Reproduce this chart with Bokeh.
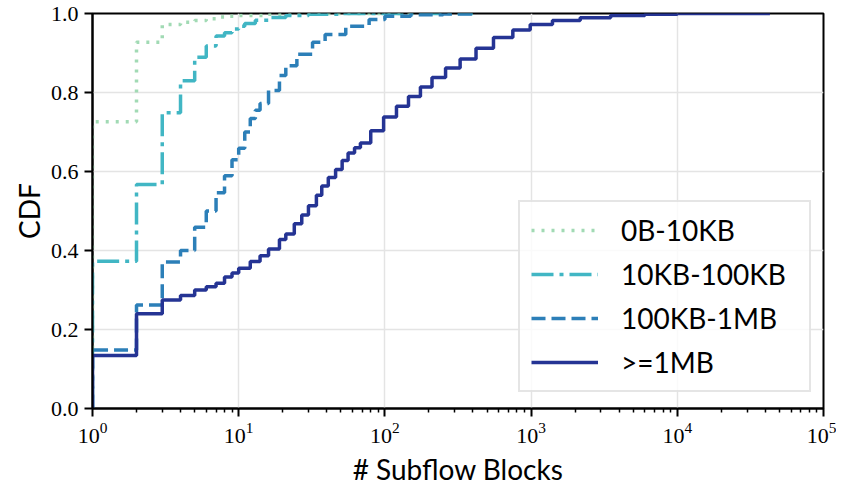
from bokeh.plotting import figure
from bokeh.models import FixedTicker, NumeralTickFormatter, Legend, LegendItem
from bokeh.embed import file_html
from bokeh.resources import INLINE

# ---- data ----
labels = ["0B-10KB", "10KB-100KB", "100KB-1MB", ">=1MB"]
colors = ["#a1dab4", "#41b6c4", "#2c7fb8", "#253494"]
dashes = ["3 7", "22 6 4 6", "14 6", "solid"]

s1_x = [1, 1, 2, 3, 4, 5, 6, 7, 8, 10, 15, 25, 150]
s1_y = [0, 0.726, 0.927, 0.972, 0.978, 0.982, 0.987, 0.991, 0.993, 0.995, 0.998, 1.0, 1.0]

s2_x = [1, 1, 2, 3, 4, 5, 6, 7, 8, 9, 10, 11, 13, 16, 21, 30, 50, 400]
s2_y = [0, 0.373, 0.567, 0.749, 0.830, 0.889, 0.918, 0.943, 0.951, 0.961, 0.968,
        0.975, 0.983, 0.990, 0.995, 0.998, 1.0, 1.0]

s3_x = [1, 1, 2, 3, 4, 5, 6, 7, 8, 9, 10, 11, 12, 13, 14, 16, 19, 21, 25, 32, 39,
        54, 78, 100, 150, 250, 400]
s3_y = [0, 0.148, 0.262, 0.371, 0.40, 0.459, 0.50, 0.546, 0.589, 0.63, 0.659, 0.70,
        0.734, 0.755, 0.772, 0.805, 0.843, 0.868, 0.897, 0.927, 0.947, 0.968, 0.985,
        0.993, 0.997, 0.999, 1.0]

s4_x = [1, 1, 2, 3, 4, 5, 6, 7, 8, 9, 10, 12, 14, 16, 19, 21, 24, 27, 30, 34, 37,
        41, 46, 51, 56, 62, 68, 80, 98, 120, 145, 175, 210, 260, 327, 420, 553, 750,
        986, 1400, 2167, 3500, 6000, 10000, 43000]
s4_y = [0, 0.134, 0.24, 0.275, 0.286, 0.30, 0.308, 0.317, 0.333, 0.343, 0.355, 0.372,
        0.387, 0.404, 0.428, 0.442, 0.468, 0.49, 0.513, 0.54, 0.563, 0.585, 0.605,
        0.628, 0.647, 0.66, 0.672, 0.703, 0.738, 0.765, 0.79, 0.814, 0.838, 0.862,
        0.885, 0.912, 0.939, 0.958, 0.972, 0.982, 0.989, 0.995, 0.998, 1.0, 1.0]

xs = [s1_x, s2_x, s3_x, s4_x]
ys = [s1_y, s2_y, s3_y, s4_y]

y_ticks = [0.0, 0.2, 0.4, 0.6, 0.8, 1.0]
x_ticks = [1, 10, 100, 1000, 10000, 100000]
x_minor = [m * d for d in [1, 10, 100, 1000, 10000] for m in range(2, 10)]

SANS = "Lato"
SERIF = "Liberation Serif"

p = figure(width=836, height=490, x_axis_type="log", x_range=(1, 1e5), y_range=(0, 1),
           output_backend="svg", toolbar_location=None,
           min_border_left=92, min_border_right=13, min_border_top=13, min_border_bottom=82)

p.background_fill_color = "white"
p.outline_line_color = "black"
p.outline_line_width = 2

p.yaxis.ticker = FixedTicker(ticks=y_ticks)
p.yaxis.formatter = NumeralTickFormatter(format="0.0")
p.xaxis.ticker = FixedTicker(ticks=x_ticks, minor_ticks=x_minor)

for ax in (p.xaxis, p.yaxis):
    ax.axis_line_width = 2
    ax.axis_line_color = "black"
    ax.major_tick_line_width = 2
    ax.major_tick_line_color = "black"
    ax.major_tick_out = 8
    ax.major_tick_in = 0
    ax.minor_tick_out = 4
    ax.minor_tick_in = 0
    ax.minor_tick_line_width = 1.5
    ax.minor_tick_line_color = "black"
    ax.major_label_text_font = SERIF
    ax.major_label_text_font_size = "22px"
    ax.major_label_text_color = "black"
    ax.axis_label_text_font = SANS
    ax.axis_label_text_font_size = "28px"
    ax.axis_label_text_font_style = "normal"
    ax.axis_label_text_color = "black"
    ax.major_label_standoff = 6

p.xaxis.axis_label_standoff = 6
p.yaxis.axis_label_standoff = 2
p.yaxis.minor_tick_line_color = None
p.xaxis.axis_label = "# Subflow Blocks"
p.yaxis.axis_label = "CDF"

p.grid.grid_line_color = "#e4e4e4"
p.grid.grid_line_width = 1.5

items = []
for lab, col, dash, x, y in zip(labels, colors, dashes, xs, ys):
    r = p.step(x, y, mode="after", line_color=col, line_width=3.5, line_dash=dash)
    items.append(LegendItem(label=lab, renderers=[r]))

legend = Legend(items=items, location=(426, 16), margin=0,
                label_text_font=SANS, label_text_font_size="28px", label_text_color="black",
                glyph_width=67, glyph_height=34, label_height=34, label_standoff=23,
                label_width=177, spacing=10, padding=11,
                border_line_color="#cccccc", border_line_width=2,
                background_fill_color="white", background_fill_alpha=0.8)
p.add_layout(legend)

open("out.html", "w").write(file_html(p, INLINE))
